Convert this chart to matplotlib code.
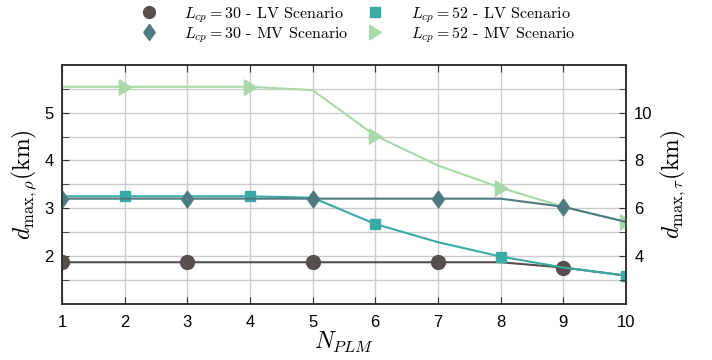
import matplotlib
matplotlib.use('Agg')
import matplotlib.pyplot as plt
import numpy as np

plt.rcParams['mathtext.fontset'] = 'cm'
plt.rcParams['font.family'] = ['Liberation Sans', 'DejaVu Sans']

# данные
n_plm = [1, 2, 3, 4, 5, 6, 7, 8, 9, 10]
lv_30 = [1.87, 1.87, 1.87, 1.87, 1.87, 1.87, 1.87, 1.87, 1.76, 1.59]   # левая ось
lv_52 = [3.25, 3.25, 3.25, 3.25, 3.22, 2.67, 2.29, 1.99, 1.76, 1.59]   # левая ось
mv_30 = [6.40, 6.40, 6.40, 6.40, 6.40, 6.40, 6.40, 6.40, 6.06, 5.43]   # правая ось
mv_52 = [11.08, 11.08, 11.08, 11.08, 10.94, 9.04, 7.79, 6.86, 6.06, 5.43]  # правая ось

labels = [r'$L_{cp}=30$ - LV Scenario', r'$L_{cp}=30$ - MV Scenario',
          r'$L_{cp}=52$ - LV Scenario', r'$L_{cp}=52$ - MV Scenario']
colors = ['#574e4e', '#4e7a81', '#3aaaa4', '#a8d9a9']

# маркеры: ромб и треугольник повыше
diamond = [(-0.72, 0), (0, 1), (0.72, 0), (0, -1), (-0.72, 0)]
triangle = [(-0.8, 1), (0.8, 0), (-0.8, -1), (-0.8, 1)]

fig = plt.figure(figsize=(7.12, 3.6), dpi=100)
ax = fig.add_axes([0.087, 0.156, 0.792, 0.664])
ax2 = ax.twinx()

odd = list(range(0, 10, 2))
even = list(range(1, 10, 2))

l1, = ax.plot(n_plm, lv_30, color=colors[0], lw=1.5, marker='o', ms=10, markevery=odd)
l3, = ax.plot(n_plm, lv_52, color=colors[2], lw=1.5, marker='s', ms=7.5, markevery=even)
l4, = ax2.plot(n_plm, mv_52, color=colors[3], lw=1.5, marker=triangle, ms=11, markevery=even)
l2, = ax2.plot(n_plm, mv_30, color=colors[1], lw=1.5, marker=diamond, ms=12, markevery=odd)

ax.set_xlim(1, 10)
ax.set_ylim(1, 6)
ax2.set_ylim(2, 12)
ax.set_xticks(range(1, 11))
ax.set_yticks([2, 3, 4, 5])
ax.set_yticks(np.arange(1.5, 6, 1.0), minor=True)
ax2.set_yticks([4, 6, 8, 10])
ax2.set_yticks([3, 5, 7, 9, 11], minor=True)

ax.grid(True, which='both', color='#cccccc', lw=1)
ax.set_axisbelow(True)
for a in (ax, ax2):
    a.tick_params(which='both', direction='in', labelsize=12, length=5, color='#333333')
    for s in a.spines.values():
        s.set_color('#333333')
        s.set_linewidth(1.2)
ax.tick_params(which='minor', left=True, length=5)
ax.tick_params(axis='x', top=True, pad=8)
ax.tick_params(axis='y', pad=6)
ax2.tick_params(axis='y', pad=6)

ax.set_xlabel(r'$N_{PLM}$', fontsize=17, labelpad=0)
ax.set_ylabel(r'$d_{\max,\rho}(\mathrm{km})$', fontsize=17, labelpad=4)
ax2.set_ylabel(r'$d_{\max,\tau}(\mathrm{km})$', fontsize=17, labelpad=4)

leg_ms = [8.5, 11.5, 7.5, 10.5]
handles = []
for h, m in zip((l1, l2, l3, l4), leg_ms):
    handles.append(plt.Line2D([], [], color=h.get_color(), marker=h.get_marker(),
                              ms=m, ls='none'))
fig.legend(handles, labels, loc='upper center', bbox_to_anchor=(0.497, 1.025), ncol=2,
           frameon=False, prop={'family': 'cmr10', 'size': 11.5},
           handletextpad=1.2, columnspacing=0.7, labelspacing=0.05, handleheight=1.0)

fig.savefig('out.png', dpi=100)
